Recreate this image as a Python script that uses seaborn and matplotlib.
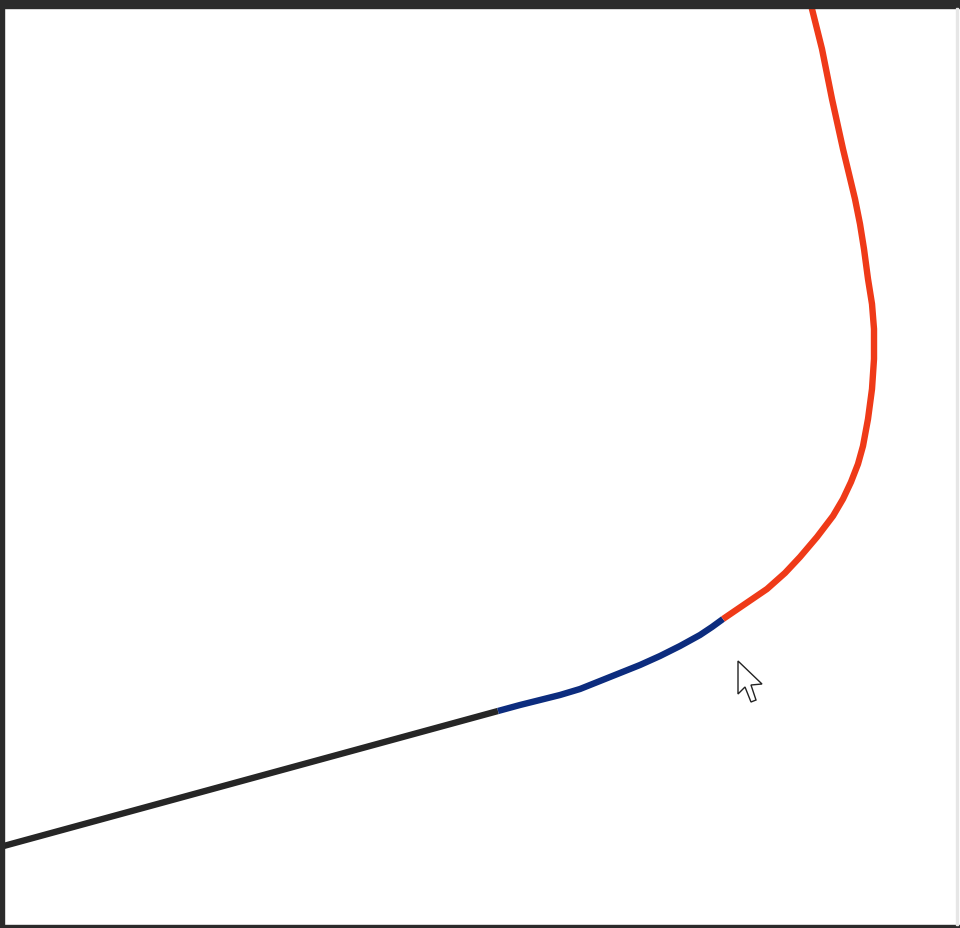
import matplotlib
matplotlib.use("Agg")
import matplotlib.pyplot as plt
import seaborn as sns
import pandas as pd
from matplotlib.patches import Rectangle, Polygon

# Data (pixel-space coordinates, y grows downward)
black_x = [0, 498]
black_y = [848, 712]
blue_x = [498, 520, 540, 560, 580, 600, 620, 640, 660, 680, 700, 712, 723]
blue_y = [712, 706, 701, 696, 690, 682, 674, 666, 657, 647, 636, 628, 620]
red_x = [723, 745, 767, 785, 800, 817, 833, 843, 851, 858, 863, 868, 872, 874, 874, 872,
         868, 864, 860, 855, 843, 832, 822, 812, 810]
red_y = [620, 605, 590, 574, 558, 538, 517, 500, 483, 465, 447, 420, 390, 360, 330, 305,
         280, 250, 225, 200, 150, 100, 50, 10, 0]

segments = ["black", "blue", "red"]
colors = {"black": "#262626", "blue": "#0c2c7e", "red": "#ef3a18"}

rows = []
for name, xs, ys in zip(segments, [black_x, blue_x, red_x], [black_y, blue_y, red_y]):
    for i, (x, y) in enumerate(zip(xs, ys)):
        rows.append({"seg": name, "x": x, "y": y, "order": i})
df = pd.DataFrame(rows)

sns.set_theme(style="white")
fig = plt.figure(figsize=(9.6, 9.29), dpi=100)
ax = fig.add_axes([0, 0, 1, 1])
ax.set_xlim(0, 960)
ax.set_ylim(929, 0)

sns.lineplot(data=df, x="x", y="y", hue="seg", palette=colors, sort=False,
             estimator=None, linewidth=4.6, legend=False, ax=ax,
             solid_capstyle="butt", solid_joinstyle="round")

ax.set_axis_off()

# window frame
ax.add_patch(Rectangle((0, 0), 960, 9, color="#2b2b2b", zorder=5))
ax.add_patch(Rectangle((0, 0), 4, 929, color="#2b2b2b", zorder=5))
ax.add_patch(Rectangle((0, 926), 960, 3, color="#2b2b2b", zorder=5))
ax.add_patch(Rectangle((956, 9), 2, 917, color="#e6e6e6", zorder=5))

# mouse cursor
cursor = [(738, 662), (738, 695), (745, 688), (751, 703), (756, 701), (751, 686), (762, 685)]
ax.add_patch(Polygon(cursor, closed=True, facecolor="white", edgecolor="#222222",
                     linewidth=1.0, zorder=6))

fig.savefig("out.png", dpi=100)
